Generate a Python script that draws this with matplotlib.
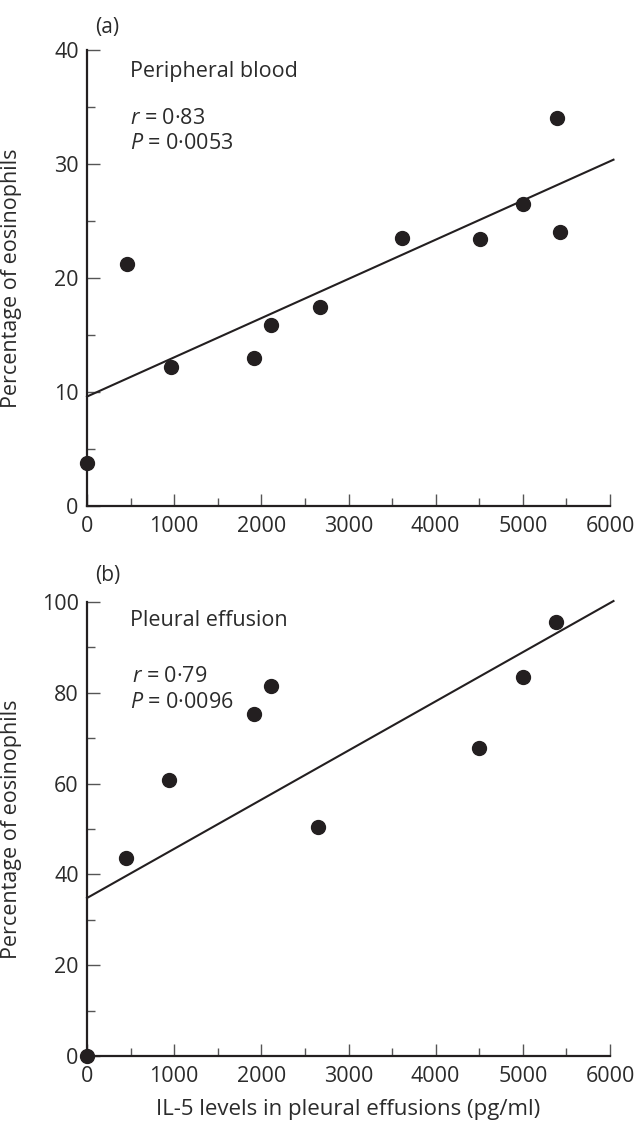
import matplotlib
matplotlib.use("Agg")
import matplotlib.pyplot as plt
from matplotlib.ticker import MultipleLocator
import numpy as np

# ---- data ----
il5_blood = [0, 458, 958, 1916, 2112, 2668, 3612, 4505, 5000, 5388, 5425]
eos_blood = [3.8, 21.2, 12.2, 13.0, 15.9, 17.5, 23.5, 23.45, 26.45, 34.0, 24.0]
fit_blood = [9.6, 0.00344]  # intercept, slope

il5_pleural = [0, 443, 943, 1918, 2109, 2650, 4493, 4997, 5380]
eos_pleural = [0, 43.6, 60.9, 75.3, 81.5, 50.5, 67.8, 83.5, 95.6]
fit_pleural = [34.8, 0.01083]

fit_x_range = [0, 6040]

xticks = [0, 1000, 2000, 3000, 4000, 5000, 6000]
yticks_a = [0, 10, 20, 30, 40]
yticks_b = [0, 20, 40, 60, 80, 100]

FONT = "Open Sans"
plt.rcParams['font.family'] = [FONT, 'DejaVu Sans']
plt.rcParams['mathtext.fontset'] = 'custom'
plt.rcParams['mathtext.rm'] = FONT
plt.rcParams['mathtext.it'] = FONT + ':italic'

W, H = 636, 1121
fig = plt.figure(figsize=(W / 100, H / 100), dpi=100)

ink = '#231f20'
txt = '#2b2b2b'

def make_axes(rect, xs, ys, fit, yticks, ylim, yminor, panel, title, rtxt, ptxt, ypos):
    ax = fig.add_axes(rect)
    ax.set_xlim(0, 6000)
    ax.set_ylim(*ylim)
    ax.spines['top'].set_visible(False)
    ax.spines['right'].set_visible(False)
    for s in ('left', 'bottom'):
        ax.spines[s].set_linewidth(1.6)
        ax.spines[s].set_color(ink)
    ax.set_xticks(xticks)
    ax.set_yticks(yticks)
    ax.xaxis.set_minor_locator(MultipleLocator(500))
    ax.yaxis.set_minor_locator(MultipleLocator(yminor))
    ax.tick_params(which='major', direction='in', length=9, width=1.0,
                   color='#555555', labelsize=15.5, labelcolor=txt)
    ax.tick_params(which='minor', direction='in', length=5.5, width=1.0,
                   color='#555555')
    ax.tick_params(axis='x', which='major', pad=7)
    ax.tick_params(axis='y', which='major', pad=6)
    xx = np.array(fit_x_range, dtype=float)
    ax.plot(xx, fit[0] + fit[1] * xx, color=ink, lw=1.5, clip_on=False, zorder=2)
    ax.plot(xs, ys, 'o', color=ink, ms=10, clip_on=False, zorder=3)
    ax.set_ylabel('Percentage of eosinophils', fontsize=15.5, color=txt)
    ax.yaxis.set_label_coords(-0.124, 0.5)
    # texts (figure fractions)
    fig.text(panel[1], panel[2], panel[0], fontsize=15, color=txt,
             ha='center', va='center')
    fig.text(0.2044, ypos[0], title, fontsize=15.5, color=txt, ha='left', va='center')
    fig.text(ypos[3], ypos[1], rtxt, fontsize=15.5, color=txt, ha='left', va='center')
    fig.text(0.2044, ypos[2], ptxt, fontsize=15.5, color=txt, ha='left', va='center')
    return ax

left = 87 / W
width = (610 - 87) / W

axa = make_axes([left, 1 - 506 / H, width, (506 - 50) / H],
                il5_blood, eos_blood, fit_blood, yticks_a, (0, 40), 5,
                ('(a)', 107 / W, 1 - 28 / H), 'Peripheral blood',
                r'$r$ = 0·83', r'$P$ = 0·0053',
                (1 - 71 / H, 1 - 119 / H, 1 - 143 / H, 0.2044))

axb = make_axes([left, 1 - 1056 / H, width, (1056 - 602) / H],
                il5_pleural, eos_pleural, fit_pleural, yticks_b, (0, 100), 10,
                ('(b)', 108 / W, 1 - 576 / H), 'Pleural effusion',
                r'$r$ = 0·79', r'$P$ = 0·0096',
                (1 - 621 / H, 1 - 676 / H, 1 - 703 / H, 0.2075))

fig.text((87 + 610) / 2 / W, 1 - 1110 / H, 'IL-5 levels in pleural effusions (pg/ml)',
         fontsize=16, color=txt, ha='center', va='center')

fig.savefig('out.png', dpi=100)
